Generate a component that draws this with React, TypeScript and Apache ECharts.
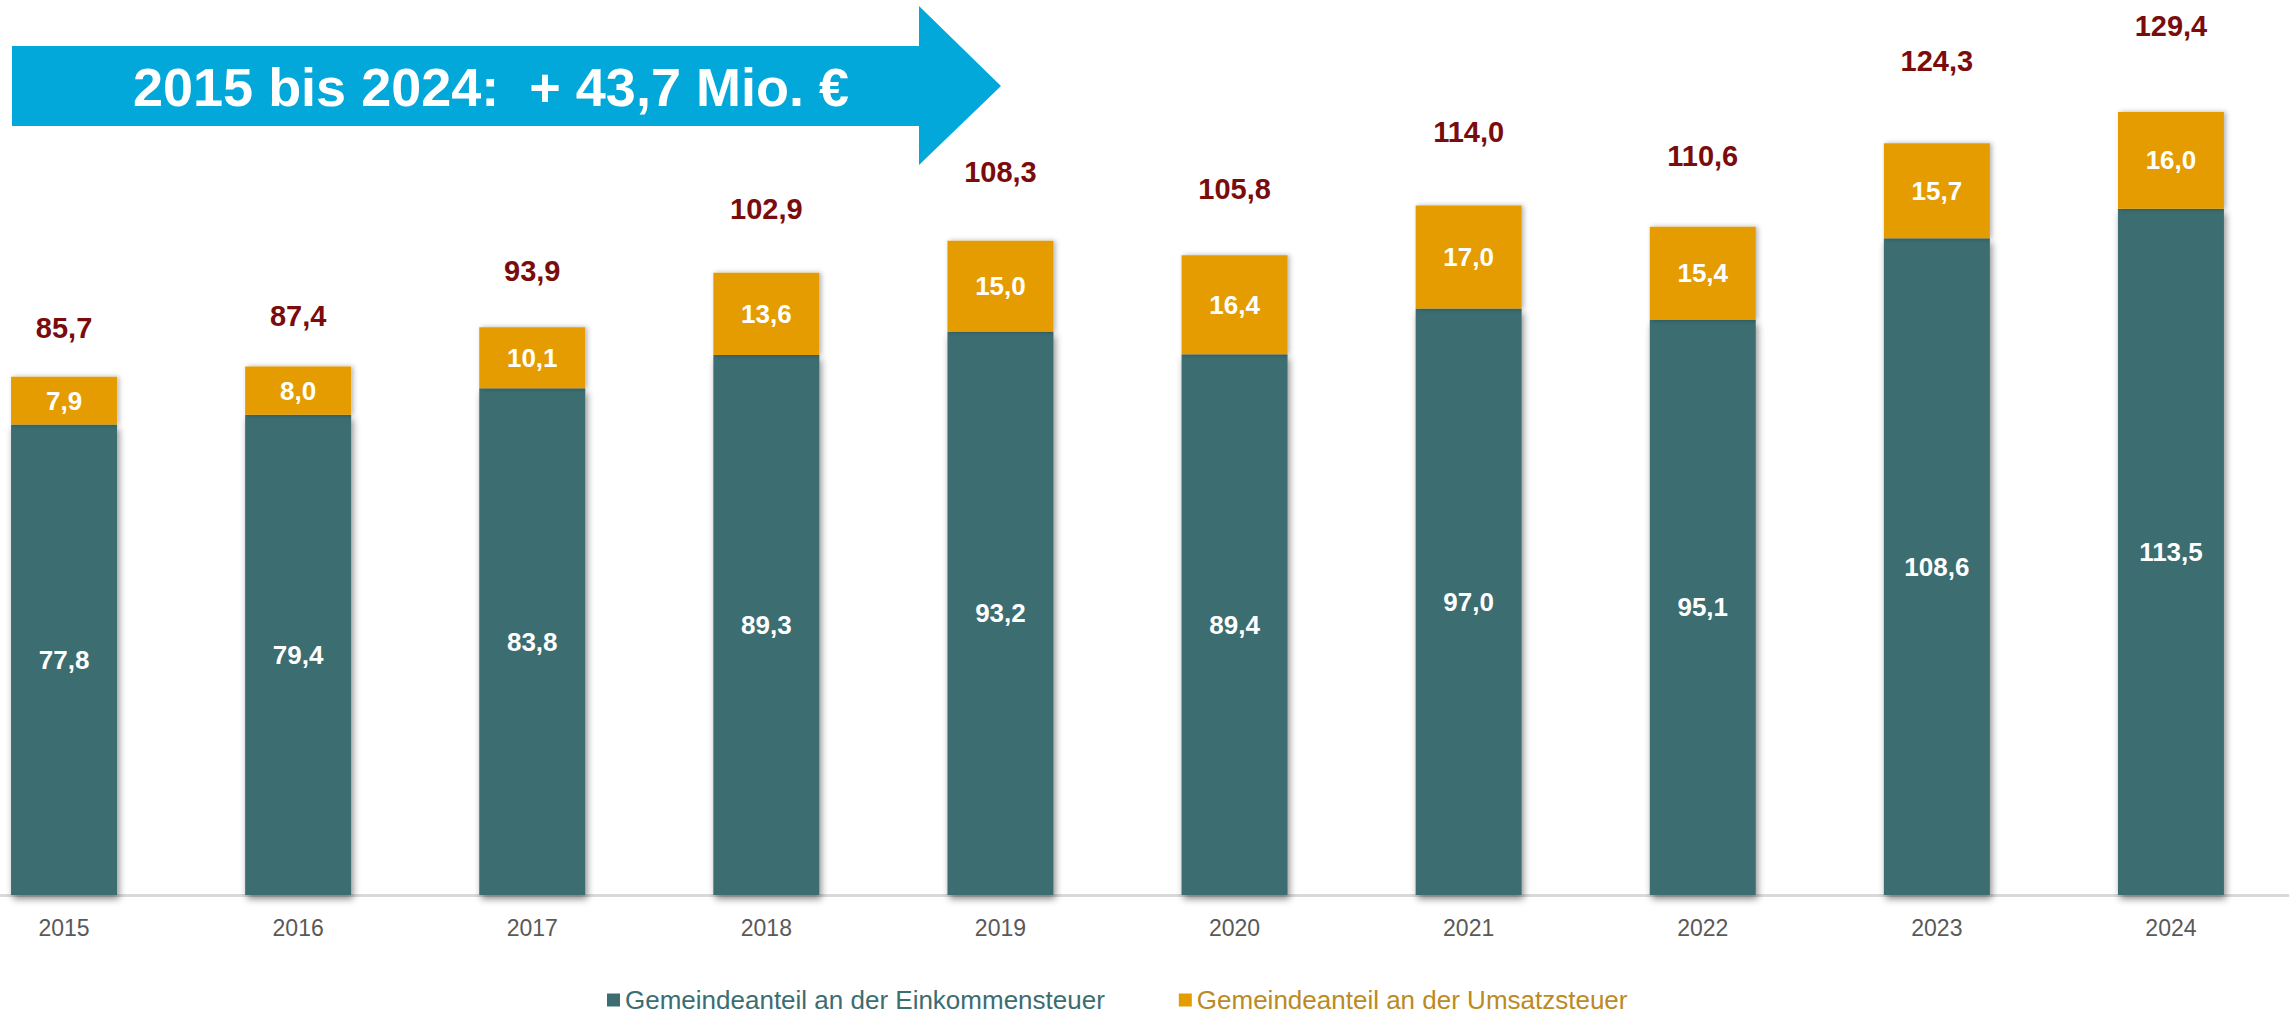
import React, { useEffect, useRef } from "react";
import * as echarts from "echarts";

const years = ["2015", "2016", "2017", "2018", "2019", "2020", "2021", "2022", "2023", "2024"];
const einkommen = [77.8, 79.4, 83.8, 89.3, 93.2, 89.4, 97.0, 95.1, 108.6, 113.5];
const umsatz = [7.9, 8.0, 10.1, 13.6, 15.0, 16.4, 17.0, 15.4, 15.7, 16.0];
const totals = [85.7, 87.4, 93.9, 102.9, 108.3, 105.8, 114.0, 110.6, 124.3, 129.4];
const seriesNames = ["Gemeindeanteil an der Einkommensteuer", "Gemeindeanteil an der Umsatzsteuer"];
const bannerText = "2015 bis 2024:  + 43,7 Mio. €";

const TEAL = "#3B6D71";
const ORANGE = "#E59C00";
const RED = "#7A0C0C";
const BLUE = "#02A8DA";

const fmt = (v: number) => v.toFixed(1).replace(".", ",");

export default function App() {
  const ref = useRef<HTMLDivElement>(null);
  useEffect(() => {
    if (!ref.current) return;
    const chart = echarts.init(ref.current, null, { renderer: "svg" });
    chart.setOption({
      animation: false,
      backgroundColor: "#ffffff",
      grid: {
        left: -53,
        right: 7,
        top: 0,
        bottom: 124,
        containLabel: false,
        outerBoundsMode: "none",
      },
      legend: {
        left: 607,
        top: 987,
        padding: 0,
        icon: "rect",
        itemWidth: 13,
        itemHeight: 13,
        itemGap: 74,
        textStyle: { fontFamily: "Liberation Sans", fontSize: 26, lineHeight: 26 },
        data: [
          { name: seriesNames[0], textStyle: { color: TEAL } },
          { name: seriesNames[1], textStyle: { color: "#BC8A1E" } },
        ],
      },
      xAxis: {
        type: "category",
        data: years,
        axisLine: { lineStyle: { color: "#D9D9D9", width: 3 } },
        axisTick: { show: false },
        axisLabel: { color: "#595959", fontFamily: "Liberation Sans", fontSize: 23, margin: 21 },
      },
      yAxis: [
        { type: "value", min: 0, max: 148, show: false, splitLine: { show: false } },
        { type: "value", min: 3.65, max: 133.17, show: false, splitLine: { show: false } },
      ],
      graphic: [
        {
          type: "polygon",
          shape: {
            points: [
              [12, 46],
              [919, 46],
              [919, 6],
              [1001, 86],
              [919, 165],
              [919, 126],
              [12, 126],
            ],
          },
          style: { fill: BLUE },
          z: 10,
        },
        {
          type: "text",
          x: 133,
          y: 87,
          style: {
            text: bannerText,
            fill: "#ffffff",
            font: "bold 54px 'Liberation Sans'",
            textVerticalAlign: "middle",
            textAlign: "left",
          },
          z: 11,
        },
      ],
      series: [
        {
          name: seriesNames[0],
          type: "bar",
          stack: "total",
          barWidth: 106,
          data: einkommen,
          itemStyle: {
            color: TEAL,
            shadowBlur: 7,
            shadowColor: "rgba(0,0,0,0.45)",
            shadowOffsetX: 2,
            shadowOffsetY: 4,
          },
          label: {
            show: true,
            position: "inside",
            formatter: (p: any) => fmt(p.value),
            color: "#ffffff",
            fontFamily: "Liberation Sans",
            fontWeight: "bold",
            fontSize: 26,
          },
        },
        {
          name: seriesNames[1],
          type: "bar",
          stack: "total",
          barWidth: 106,
          data: umsatz,
          itemStyle: {
            color: ORANGE,
            shadowBlur: 5,
            shadowColor: "rgba(0,0,0,0.3)",
            shadowOffsetX: 2,
            shadowOffsetY: 0,
          },
          label: {
            show: true,
            position: "inside",
            formatter: (p: any) => fmt(p.value),
            color: "#ffffff",
            fontFamily: "Liberation Sans",
            fontWeight: "bold",
            fontSize: 26,
          },
        },
        {
          name: "Summe",
          type: "line",
          yAxisIndex: 1,
          data: totals,
          clip: false,
          symbol: "circle",
          symbolSize: 1,
          itemStyle: { color: "rgba(0,0,0,0)" },
          lineStyle: { opacity: 0, width: 0 },
          silent: true,
          label: {
            show: true,
            position: "inside",
            formatter: (p: any) => fmt(p.value),
            color: RED,
            fontFamily: "Liberation Sans",
            fontWeight: "bold",
            fontSize: 29,
          },
        },
      ],
    });
    return () => chart.dispose();
  }, []);
  return (
    <div
      ref={ref}
      style={{ position: "absolute", left: 0, top: 0, width: 2295, height: 1019 }}
    />
  );
}
